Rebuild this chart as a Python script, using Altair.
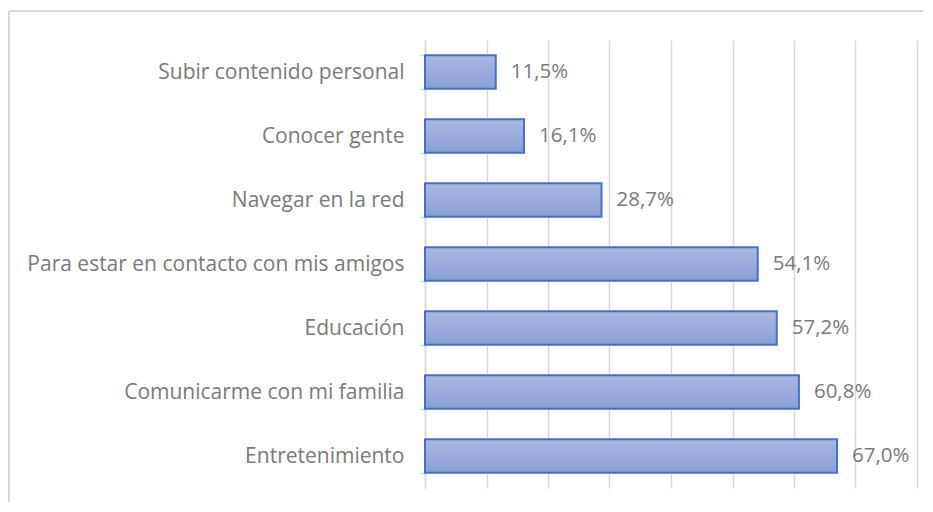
import altair as alt
import pandas as pd

categories = [
    "Subir contenido personal",
    "Conocer gente",
    "Navegar en la red",
    "Para estar en contacto con mis amigos",
    "Educación",
    "Comunicarme con mi familia",
    "Entretenimiento",
]
values = [0.115, 0.161, 0.287, 0.541, 0.572, 0.608, 0.670]
labels = ["11,5%", "16,1%", "28,7%", "54,1%", "57,2%", "60,8%", "67,0%"]

df = pd.DataFrame({"cat": categories, "val": values, "lab": labels})

FONT = "Open Sans"
TXT = "#7a7a7a"

x = alt.X("val:Q", scale=alt.Scale(domain=[0, 0.8], nice=False),
          axis=alt.Axis(values=[0, 0.1, 0.2, 0.3, 0.4, 0.5, 0.6, 0.7, 0.8],
                        labels=False, ticks=False, domain=False, title=None,
                        grid=True, gridColor="#d9d9d9", gridWidth=1.5))
y = alt.Y("cat:N", sort=categories, scale=alt.Scale(paddingInner=0.48, paddingOuter=0.24),
          axis=alt.Axis(title=None, labelFont=FONT, labelFontSize=21, labelColor=TXT,
                        domainColor="#d9d9d9", domainWidth=1.5, tickColor="#d9d9d9",
                        tickSize=5, tickWidth=1.5, tickBand="extent", labelPadding=16,
                        labelLimit=600))

bars = alt.Chart(df).mark_bar(
    color=alt.Gradient(gradient="linear", x1=0, x2=0, y1=0, y2=1,
                       stops=[alt.GradientStop(color="#abb8e1", offset=0),
                              alt.GradientStop(color="#8b9fd7", offset=1)]),
    stroke="#4472c4", strokeWidth=2,
).encode(x=x, y=y)

text = alt.Chart(df).mark_text(align="left", dx=15, font=FONT, fontSize=20.5, color=TXT).encode(
    x="val:Q", y=alt.Y("cat:N", sort=categories), text="lab:N")

frame_top = alt.Chart(df).mark_rule(stroke="#d9d9d9", strokeWidth=1.5).encode(
    x=alt.value(-416), x2=alt.value(560), y=alt.value(-29))
frame_left = alt.Chart(df).mark_rule(stroke="#d9d9d9", strokeWidth=1.5).encode(
    x=alt.value(-416), y=alt.value(-29), y2=alt.value(520))

chart = alt.layer(frame_top, frame_left, bars, text).properties(
    width=492, height=448, autosize=alt.AutoSizeParams(type="none"),
    padding={"left": 417, "top": 32, "right": 6, "bottom": 14},
).configure_view(stroke=None)

chart.save("out.html", embed_options={"renderer": "svg", "actions": False})
